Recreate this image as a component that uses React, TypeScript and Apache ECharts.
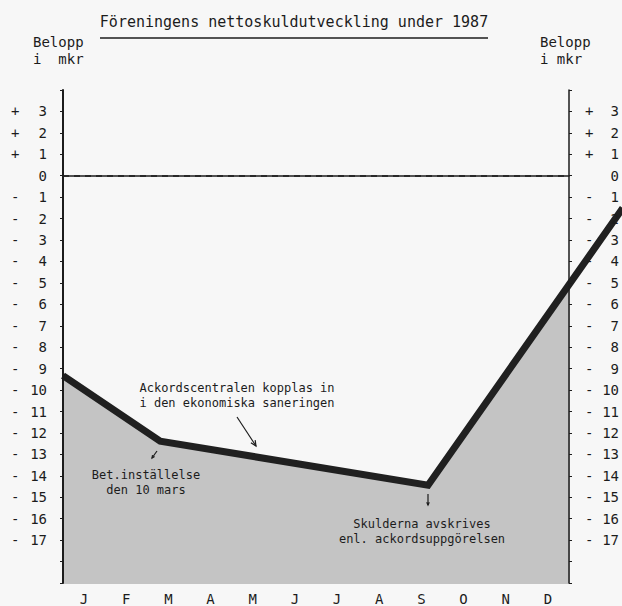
import React, { useEffect, useRef } from "react";
import * as echarts from "echarts";

const MONTHS = ["J", "F", "M", "A", "M", "J", "J", "A", "S", "O", "N", "D"];
// time in months from 1 Jan, net debt in mkr
const LINE_X = [0, 2.3, 8.64, 13.25];
const LINE_Y = [-9.3, -12.35, -14.4, -1.5];
const AREA_X = [0, 2.3, 8.64, 12];
const AREA_Y = [-9.3, -12.35, -14.4, -5.0];
const Y_MIN = -19;
const Y_MAX = 4;
const Y_LABEL_MIN = -17;
const Y_LABEL_MAX = 3;

const TITLE = "Föreningens nettoskuldutveckling under 1987";
const NOTE_MAIN = "Ackordscentralen kopplas in\ni den ekonomiska saneringen";
const NOTE_M = "Bet.inställelse\nden 10 mars";
const NOTE_S = "Skulderna avskrives\nenl. ackordsuppgörelsen";

const MONO = "'DejaVu Sans Mono', 'Liberation Mono', monospace";
const INK = "#1c1c1c";

const W = 622, H = 606;
const G_LEFT = 63, G_RIGHT = 52, G_TOP = 90, G_BOTTOM = 22;
// second, wider grid for the data so that the line can run past the right axis
const PLOT_W = W - G_LEFT - G_RIGHT;
const WIDE_MAX = (12 * (W - G_LEFT)) / PLOT_W;

function arrow(x1: number, y1: number, x2: number, y2: number, size: number) {
  const dx = x2 - x1, dy = y2 - y1;
  const len = Math.hypot(dx, dy);
  const bx = -dx / len, by = -dy / len;
  const a = (25 * Math.PI) / 180;
  const c = Math.cos(a), s = Math.sin(a);
  const p1 = [x2 + size * (bx * c - by * s), y2 + size * (bx * s + by * c)];
  const p2 = [x2 + size * (bx * c + by * s), y2 + size * (-bx * s + by * c)];
  return [
    { type: "line", shape: { x1, y1, x2, y2 }, style: { stroke: INK, lineWidth: 1.2 }, z: 10 },
    { type: "polyline", shape: { points: [p1, [x2, y2], p2] }, style: { stroke: INK, lineWidth: 1.2, fill: null }, z: 10 },
  ];
}

function yLabel(v: number) {
  if (v > Y_LABEL_MAX || v < Y_LABEL_MIN) return "";
  const sign = v > 0 ? "+" : v < 0 ? "-" : " ";
  return `{s|${sign}}{n|${Math.abs(v)}}`;
}

export default function App() {
  const ref = useRef<HTMLDivElement>(null);
  useEffect(() => {
    document.body.style.margin = "0";
    const chart = echarts.init(ref.current!, null, { renderer: "svg" });
    const labelRich = {
      s: { width: 14, align: "left", fontFamily: MONO, fontSize: 14, color: INK },
      n: { width: 22, align: "right", fontFamily: MONO, fontSize: 14, color: INK },
    };
    const labelRichR = {
      s: { width: 14, align: "left", fontFamily: MONO, fontSize: 14, color: INK },
      n: { width: 20, align: "right", fontFamily: MONO, fontSize: 14, color: INK },
    };
    chart.setOption({
      animation: false,
      backgroundColor: "#f7f7f7",
      grid: [
        { left: G_LEFT, right: G_RIGHT, top: G_TOP, bottom: G_BOTTOM, containLabel: false },
        { left: G_LEFT, right: 0, top: G_TOP, bottom: G_BOTTOM, containLabel: false },
      ],
      xAxis: [
        {
          type: "category",
          gridIndex: 0,
          data: MONTHS.map((_, i) => String(i)),
          boundaryGap: true,
          axisLine: { lineStyle: { color: INK, width: 1.5 } },
          axisTick: { inside: true, length: 5, lineStyle: { color: INK } },
          axisLabel: {
            formatter: (_v: string, i: number) => MONTHS[i],
            margin: 9,
            fontFamily: MONO,
            fontSize: 14,
            color: INK,
          },
          splitLine: { show: false },
          z: 5,
        },
        { type: "value", gridIndex: 1, min: 0, max: WIDE_MAX, show: false },
      ],
      yAxis: [
        {
          type: "value",
          gridIndex: 0,
          position: "left",
          min: Y_MIN,
          max: Y_MAX,
          interval: 1,
          axisLine: { show: true, lineStyle: { color: INK, width: 2 } },
          axisTick: { show: true, length: 3, lineStyle: { color: INK } },
          axisLabel: { formatter: yLabel, margin: 16, rich: labelRich },
          splitLine: { show: false },
          z: 5,
        },
        {
          type: "value",
          gridIndex: 0,
          position: "right",
          min: Y_MIN,
          max: Y_MAX,
          interval: 1,
          axisLine: { show: true, lineStyle: { color: INK, width: 1.5 } },
          axisTick: { show: true, length: 3, lineStyle: { color: INK } },
          axisLabel: { formatter: yLabel, margin: 16, rich: labelRichR },
          splitLine: { show: false },
          z: 5,
        },
        { type: "value", gridIndex: 1, min: Y_MIN, max: Y_MAX, show: false },
      ],
      series: [
        {
          type: "line",
          xAxisIndex: 1,
          yAxisIndex: 2,
          data: AREA_X.map((x, i) => [x, AREA_Y[i]]),
          symbol: "none",
          lineStyle: { width: 0 },
          areaStyle: { origin: "start", color: "#c4c4c4", opacity: 1 },
          z: 1,
        },
        {
          type: "line",
          xAxisIndex: 0,
          yAxisIndex: 0,
          data: [],
          symbol: "none",
          markLine: {
            silent: true,
            symbol: "none",
            label: { show: false },
            lineStyle: { color: INK, type: [6, 5], width: 1.5 },
            data: [{ yAxis: 0 }],
          },
        },
        {
          type: "line",
          xAxisIndex: 1,
          yAxisIndex: 2,
          data: LINE_X.map((x, i) => [x, LINE_Y[i]]),
          symbol: "none",
          clip: true,
          lineStyle: { width: 7, color: "#202020", join: "miter", cap: "butt" },
          z: 3,
        },
      ],
      graphic: [
        {
          type: "text",
          x: 294,
          y: 22,
          style: { text: TITLE, font: `15px ${MONO}`, fill: INK, align: "center", verticalAlign: "middle" },
        },
        { type: "line", shape: { x1: 100, y1: 38, x2: 488, y2: 38 }, style: { stroke: INK, lineWidth: 1.5 } },
        {
          type: "text",
          x: 33,
          y: 50,
          style: { text: "Belopp\ni  mkr", font: `14px ${MONO}`, fill: INK, lineHeight: 17, verticalAlign: "middle" },
        },
        {
          type: "text",
          x: 540,
          y: 50,
          style: { text: "Belopp\ni mkr", font: `14px ${MONO}`, fill: INK, lineHeight: 17, verticalAlign: "middle" },
        },
        {
          type: "text",
          x: 237,
          y: 395,
          style: { text: NOTE_MAIN, font: `12px ${MONO}`, fill: INK, lineHeight: 15, align: "center", verticalAlign: "middle" },
          z: 10,
        },
        {
          type: "text",
          x: 146,
          y: 482,
          style: { text: NOTE_M, font: `12px ${MONO}`, fill: INK, lineHeight: 15, align: "center", verticalAlign: "middle" },
          z: 10,
        },
        {
          type: "text",
          x: 422,
          y: 531,
          style: { text: NOTE_S, font: `12px ${MONO}`, fill: INK, lineHeight: 15, align: "center", verticalAlign: "middle" },
          z: 10,
        },
        ...arrow(237, 417, 256, 446, 6),
        ...arrow(157, 451, 152, 458, 3),
        ...arrow(428, 494, 428, 505, 3),
      ],
    });
    return () => chart.dispose();
  }, []);
  return <div ref={ref} style={{ width: W, height: H }} />;
}
